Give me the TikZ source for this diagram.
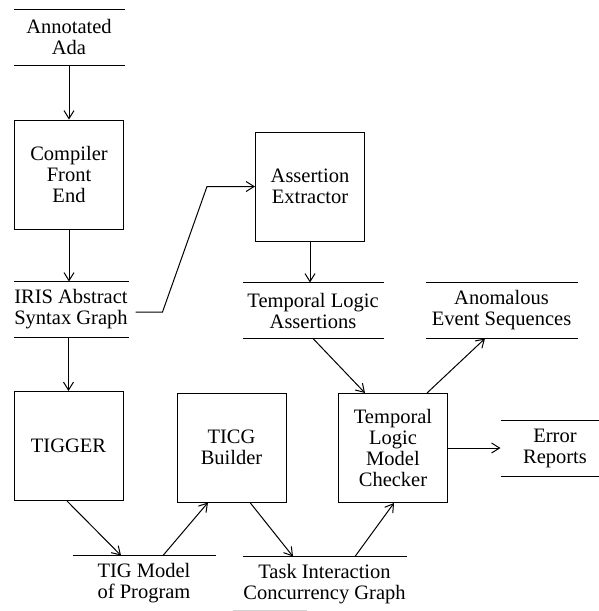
\documentclass[tikz,border=0pt]{standalone}
\usepackage{fontspec}
\setmainfont{Liberation Serif}
\usetikzlibrary{arrows.meta,calc}
\begin{document}
\begin{tikzpicture}[x=1pt,y=-1pt,
  line width=1pt,
  font=\fontsize{20.5}{21}\selectfont,
  proc/.style={draw, rectangle, minimum width=109pt, minimum height=109pt,
    inner sep=0pt, align=center},
  store/.style={rectangle, minimum width=#1, minimum height=55pt,
    inner sep=0pt, align=center},
  flow/.style={-{Straight Barb[length=8pt,width=10pt]}},
]
\useasboundingbox (0,0) rectangle (599,611);

% processes
\node[proc] (cfe)    at (69,174.5)   {Compiler\\Front\\End};
\node[proc] (ae)     at (310,186.5)  {Assertion\\Extractor};
\node[proc] (tigger) at (68.5,446)   {TIGGER};
\node[proc] (ticg)   at (231.5,447.5) {TICG\\Builder};
\node[proc] (tlmc)   at (393,448)    {Temporal\\Logic\\Model\\Checker};

% data stores
\node[store=110pt] (ada)  at (69,37)      {Annotated\\Ada};
\node[store=114pt] (iris) at (71,309.5)   {IRIS Abstract\\Syntax Graph};
\node[store=140pt] (tla)  at (313,310.5)  {Temporal Logic\\Assertions};
\node[store=151pt] (aes)  at (501.5,310.5) {Anomalous\\Event Sequences};
\node[store=108pt] (err)  at (555,448)    {Error\\Reports};
\node[store=142pt] (tig)  at (144,583.5)  {TIG Model\\of Program};
\node[store=163pt] (task) at (324.5,584.5) {Task Interaction\\Concurrency Graph};

% store rules
\foreach \s in {ada,iris,tla,aes,err}{
  \draw (\s.north west) -- (\s.north east);
  \draw (\s.south west) -- (\s.south east);
}
\foreach \s in {tig,task}
  \draw (\s.north west) -- (\s.north east);
\draw[gray!35, line width=0.8pt] ($(task.south west)+(-10,-2)$) -- ++(74,0);

% data flows
\draw[flow] (ada.south) -- (cfe.north);
\draw[flow] (cfe.south) -- (cfe.south |- iris.north);
\draw[flow] ($(iris.east)+(7,2.5)$) -- ++(27,0) -- ($(ae.west)+(-48,0)$) -- (ae.west);
\draw[flow] (iris.south -| tigger.north) -- (tigger.north);
\draw[flow] (ae.south) -- (ae.south |- tla.north);
\draw[flow] (tla.south) -- ($(tlmc.north)+(-28,0)$);
\draw[flow] ($(tlmc.north)+(34,0)$) -- ($(aes.south)+(-16.5,0)$);
\draw[flow] (tlmc.east) -- (tlmc.east -| err.west);
\draw[flow] ($(tigger.south)+(-1.5,0)$) -- ($(tig.north)+(-23,0)$);
\draw[flow] ($(tig.north)+(19,0)$) -- ($(ticg.south)+(-23.5,0)$);
\draw[flow] ($(ticg.south)+(18.5,0)$) -- ($(task.north)+(-31.5,0)$);
\draw[flow] ($(task.north)+(30.5,0)$) -- ($(tlmc.south)+(1,0)$);
\end{tikzpicture}
\end{document}
